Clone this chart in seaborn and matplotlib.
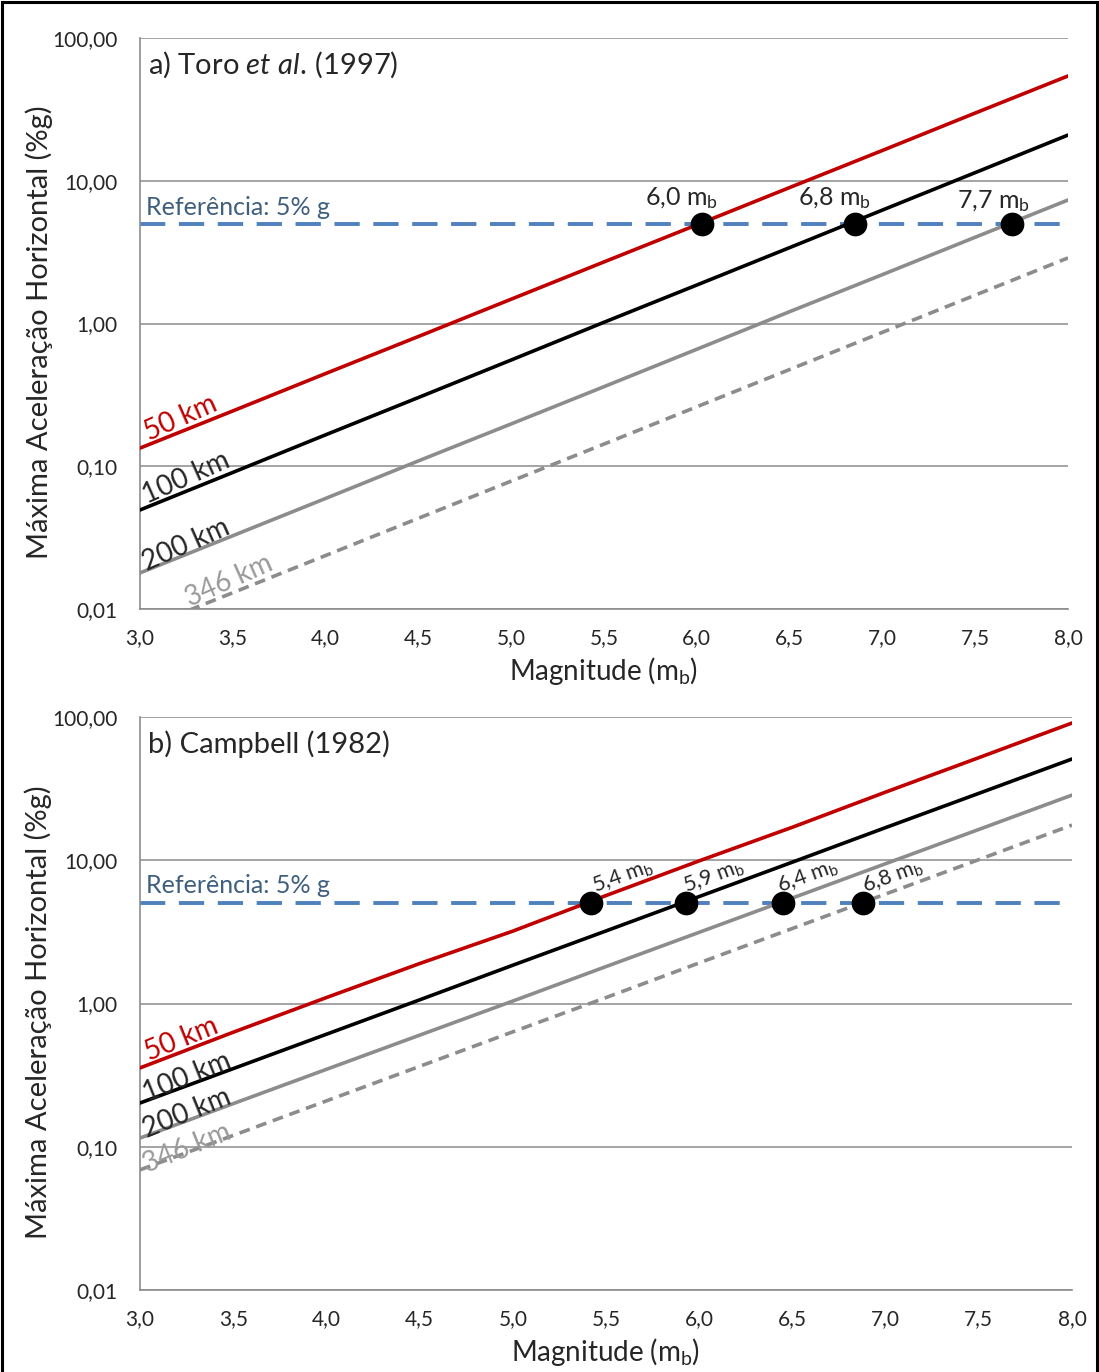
import matplotlib
matplotlib.use("Agg")
import matplotlib.pyplot as plt
import seaborn as sns
import numpy as np
import pandas as pd
from matplotlib.patches import Rectangle

# ---------------- data ----------------
magnitudes = [3.0, 3.5, 4.0, 4.5, 5.0, 5.5, 6.0, 6.5, 7.0, 7.5, 8.0]

# a) Toro et al. (1997)  PGA (%g)
toro_50 = [0.134, 0.244, 0.446, 0.811, 1.48, 2.70, 4.91, 8.96, 16.3, 29.8, 54.2]
toro_100 = [0.0494, 0.0905, 0.166, 0.303, 0.555, 1.02, 1.86, 3.40, 6.23, 11.4, 20.9]
toro_200 = [0.0179, 0.0326, 0.0595, 0.109, 0.198, 0.361, 0.660, 1.21, 2.20, 4.02, 7.33]
toro_346 = [0.00715, 0.0130, 0.0237, 0.0432, 0.0787, 0.143, 0.261, 0.476, 0.867, 1.58, 2.88]

# b) Campbell (1982)  PGA (%g)
camp_50 = [0.355, 0.63, 1.10, 1.90, 3.20, 5.67, 9.9, 17.0, 29.9, 52.0, 90.8]
camp_100 = [0.202, 0.351, 0.610, 1.06, 1.85, 3.21, 5.58, 9.70, 16.9, 29.3, 50.9]
camp_200 = [0.115, 0.200, 0.347, 0.601, 1.04, 1.81, 3.14, 5.45, 9.46, 16.4, 28.5]
camp_346 = [0.069, 0.120, 0.209, 0.364, 0.634, 1.10, 1.92, 3.34, 5.81, 10.1, 17.6]

reference_level = 5.0
toro_cross = [6.03, 6.85, 7.70]
toro_cross_labels = ["6,0", "6,8", "7,7"]
camp_cross = [5.42, 5.93, 6.45, 6.88]
camp_cross_labels = ["5,4", "5,9", "6,4", "6,8"]

distance_labels = ["50 km", "100 km", "200 km", "346 km"]
x_ticks = [3.0, 3.5, 4.0, 4.5, 5.0, 5.5, 6.0, 6.5, 7.0, 7.5, 8.0]
x_tick_labels = ["3,0", "3,5", "4,0", "4,5", "5,0", "5,5", "6,0", "6,5", "7,0", "7,5", "8,0"]
y_ticks = [0.01, 0.1, 1, 10, 100]
y_tick_labels = ["0,01", "0,10", "1,00", "10,00", "100,00"]

# ---------------- style ----------------
sns.set_style("white")
FONT = "Lato"
plt.rcParams["font.family"] = [FONT, "DejaVu Sans"]
plt.rcParams["mathtext.fontset"] = "custom"
plt.rcParams["mathtext.rm"] = FONT
plt.rcParams["mathtext.it"] = FONT + ":italic"
plt.rcParams["mathtext.bf"] = FONT + ":bold"

RED = "#c00000"
BLACK = "#000000"
GRAY = "#8c8c8c"
LGRAY = "#9a9a9a"
BLUE = "#4f81bd"
REFTXT = "#3f5f7f"
TXT = "#262626"
colors = [RED, BLACK, GRAY, GRAY]
label_colors = [RED, TXT, TXT, LGRAY]

fig = plt.figure(figsize=(10.99, 13.72), dpi=100)
axA = fig.add_axes([140 / 1099, 1 - 609 / 1372, 928 / 1099, 571 / 1372])
axB = fig.add_axes([140 / 1099, 1 - 1290 / 1372, 932 / 1099, 573 / 1372])


def setup(ax):
    ax.set_yscale("log")
    ax.set_xlim(3.0, 8.0)
    ax.set_ylim(0.01, 100)
    ax.set_xticks(x_ticks)
    ax.set_xticklabels(x_tick_labels)
    ax.set_yticks(y_ticks)
    ax.set_yticklabels(y_tick_labels)
    ax.yaxis.set_minor_locator(matplotlib.ticker.NullLocator())
    ax.tick_params(axis="both", which="major", direction="out", length=6,
                   width=1.2, color="#8c8c8c", labelsize=15, labelcolor=TXT)
    ax.tick_params(axis="y", pad=10)
    ax.tick_params(axis="x", pad=8)
    ax.grid(True, axis="y", color="#8c8c8c", linewidth=1.1)
    ax.grid(False, axis="x")
    for s in ["top", "right"]:
        ax.spines[s].set_visible(False)
    for s in ["left", "bottom"]:
        ax.spines[s].set_color("#8c8c8c")
        ax.spines[s].set_linewidth(1.2)
    ax.set_axisbelow(True)
    ax.set_xlabel("Magnitude (m$_\\mathrm{b}$)", fontsize=20, color=TXT, labelpad=5)
    ax.set_ylabel("Máxima Aceleração Horizontal (%g)", fontsize=21, color=TXT)
    ax.yaxis.set_label_coords(-0.094, 0.485)


def draw_panel(ax, series, cross, cross_labels, title, dist_pos, rot, cross_lbl_pos, cross_rot, cross_fs, ref_y):
    setup(ax)
    for i, vals in enumerate(series):
        ls = "-" if i < 3 else (0, (3.0, 1.9))
        sns.lineplot(x=magnitudes, y=vals, ax=ax, color=colors[i], linewidth=2.6,
                     linestyle=ls, zorder=3)
    sns.lineplot(x=[3.0, 8.0], y=[reference_level, reference_level], ax=ax, color=BLUE,
                 linewidth=2.8, linestyle=(0, (6.5, 3.5)), zorder=2)
    sns.scatterplot(x=cross, y=[reference_level] * len(cross), ax=ax, s=250, color="black",
                    edgecolor="black", zorder=5)
    for (xx, yy), lab, c in zip(dist_pos, distance_labels, label_colors):
        ax.text(xx, yy, lab, rotation=rot, rotation_mode="anchor", ha="left", va="baseline",
                fontsize=20, color=c, zorder=6)
    for (xx, yy), lab in zip(cross_lbl_pos, cross_labels):
        ax.text(xx, yy, lab + " m$_\\mathrm{b}$", rotation=cross_rot, rotation_mode="anchor",
                ha="center", va="center", fontsize=cross_fs, color=TXT, zorder=6)
    ax.text(3.03, ref_y, "Referência: 5% g", ha="left", va="center", fontsize=18,
            color=REFTXT, zorder=6)
    ax.text(0.009, 0.953, title, transform=ax.transAxes, ha="left", va="center",
            fontsize=21, color=TXT)


draw_panel(axA, [toro_50, toro_100, toro_200, toro_346], toro_cross, toro_cross_labels,
           "a) Toro $\\mathit{et\\ al.}\\,$(1997)",
           [(3.05, 0.150), (3.04, 0.054), (3.04, 0.0185), (3.27, 0.0103)], 24,
           [(5.92, 7.5), (6.74, 7.5), (7.6, 7.2)], 0, 18, 6.5)
draw_panel(axB, [camp_50, camp_100, camp_200, camp_346], camp_cross, camp_cross_labels,
           "b) Campbell (1982)",
           [(3.05, 0.40), (3.04, 0.205), (3.04, 0.115), (3.04, 0.066)], 22,
           [(5.59, 7.7), (6.08, 7.7), (6.58, 7.7), (7.04, 7.7)], 20, 15.5, 6.7)

# outer frame of the figure
fig.add_artist(Rectangle((2 / 1099, -0.01), 1 - 4 / 1099, 1.01 - 2 / 1372, transform=fig.transFigure,
                         fill=False, edgecolor="black", linewidth=2.2))

fig.savefig("out.png", dpi=100)
